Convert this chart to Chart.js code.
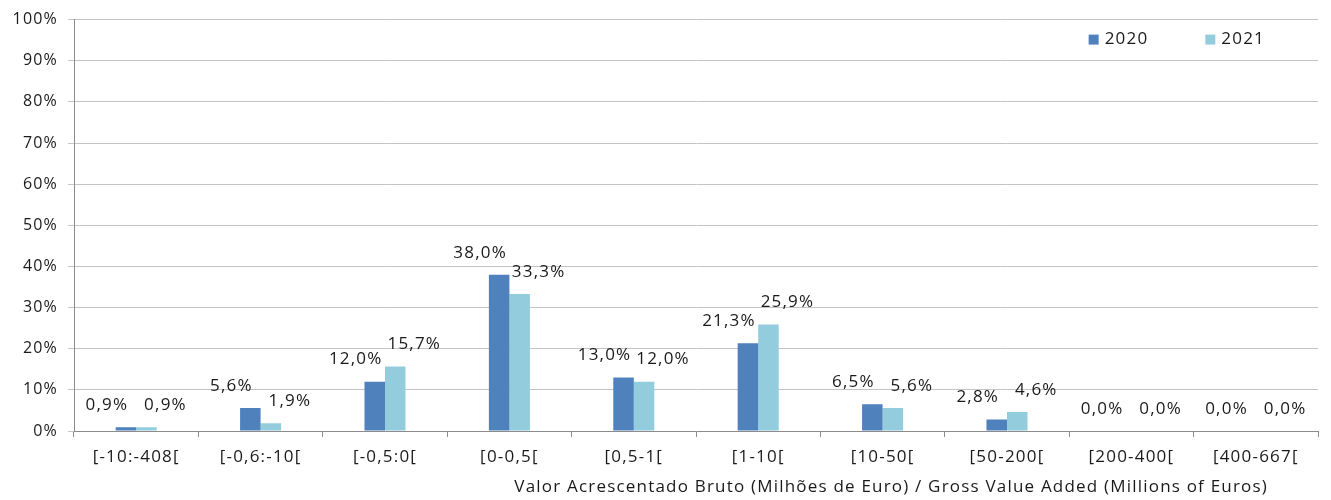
<!DOCTYPE html>
<html>
<head>
<meta charset="utf-8">
<script src="https://cdn.jsdelivr.net/npm/chart.js@4.4.1/dist/chart.umd.min.js"></script>
<style>
  html, body { margin: 0; padding: 0; background: #fff; }
  #wrap { width: 1331px; height: 500px; }
</style>
</head>
<body>
<div id="wrap"><canvas id="gva"></canvas></div>
<script>
// Dados do gráfico
const categories = ['[-10:-408[', '[-0,6:-10[', '[-0,5:0[', '[0-0,5[', '[0,5-1[', '[1-10[', '[10-50[', '[50-200[', '[200-400[', '[400-667['];
const values2020 = [0.9, 5.6, 12.0, 38.0, 13.0, 21.3, 6.5, 2.8, 0.0, 0.0];
const values2021 = [0.9, 1.9, 15.7, 33.3, 12.0, 25.9, 5.6, 4.6, 0.0, 0.0];
const seriesNames = ['2020', '2021'];
const yTicks = [0, 10, 20, 30, 40, 50, 60, 70, 80, 90, 100];
const xTitle = 'Valor Acrescentado Bruto (Milhões de Euro) / Gross Value Added (Millions of Euros)';

const FONT = '"Open Sans", "DejaVu Sans", sans-serif';
const SPACING = '1.2px';

// Formatar percentagem com vírgula
function formatPct(v) {
    return v.toFixed(1).replace('.', ',') + '%';
}

// Espaçamento entre letras (o canvas perde o estado ao redimensionar)
const letterSpacing = {
    id: 'letterSpacing',
    beforeLayout(chart) { chart.ctx.letterSpacing = SPACING; },
    beforeDraw(chart) { chart.ctx.letterSpacing = SPACING; }
};

// Rótulos de dados por cima das barras
const barLabels = {
    id: 'barLabels',
    afterDatasetsDraw(chart) {
        const ctx = chart.ctx;
        ctx.save();
        ctx.font = '17px ' + FONT;
        ctx.fillStyle = '#1a1a1a';
        ctx.textAlign = 'center';
        ctx.textBaseline = 'middle';
        chart.data.datasets.forEach((ds, di) => {
            const meta = chart.getDatasetMeta(di);
            const shift = di === 0 ? -19 : 19;
            meta.data.forEach((bar, i) => {
                ctx.fillText(formatPct(ds.data[i]), bar.x + shift, bar.y - 22);
            });
        });
        ctx.restore();
    }
};

// Legenda dentro da área do gráfico, canto superior direito
const insideLegend = {
    id: 'insideLegend',
    afterDraw(chart) {
        const ctx = chart.ctx;
        const area = chart.chartArea;
        ctx.save();
        ctx.font = '17px ' + FONT;
        ctx.textBaseline = 'middle';
        ctx.textAlign = 'left';
        const y = area.top + 20;
        let x = area.right - 53;
        const items = chart.data.datasets.slice().reverse();
        items.forEach(ds => {
            const w = ctx.measureText(ds.label).width;
            x -= w;
            ctx.fillStyle = '#1a1a1a';
            ctx.fillText(ds.label, x, y);
            x -= 6 + 10;
            ctx.fillStyle = ds.backgroundColor;
            ctx.fillRect(x, y - 5, 10, 10);
            x -= 57;
        });
        ctx.restore();
    }
};

// Título do eixo x alinhado à direita
const axisTitle = {
    id: 'axisTitle',
    afterDraw(chart) {
        const ctx = chart.ctx;
        ctx.save();
        ctx.font = '17px ' + FONT;
        ctx.fillStyle = '#1a1a1a';
        ctx.textAlign = 'right';
        ctx.textBaseline = 'middle';
        ctx.fillText(xTitle, chart.chartArea.right - 50, 487);
        ctx.restore();
    }
};

const ctx = document.getElementById('gva').getContext('2d');
new Chart(ctx, {
    type: 'bar',
    data: {
        labels: categories,
        datasets: [{
            label: seriesNames[0],
            data: values2020,
            backgroundColor: '#4f81bd',
            categoryPercentage: 0.33,
            barPercentage: 1.0
        }, {
            label: seriesNames[1],
            data: values2021,
            backgroundColor: '#93cddd',
            categoryPercentage: 0.33,
            barPercentage: 1.0
        }]
    },
    options: {
        responsive: true,
        maintainAspectRatio: false,
        animation: false,
        devicePixelRatio: 1,
        layout: {
            padding: { top: 12, right: 13, left: 0, bottom: 0 }
        },
        plugins: {
            legend: { display: false },
            tooltip: { enabled: false }
        },
        scales: {
            x: {
                grid: {
                    drawOnChartArea: false,
                    drawTicks: true,
                    tickLength: 6,
                    color: '#8c8c8c'
                },
                border: { color: '#8c8c8c' },
                ticks: {
                    color: '#1a1a1a',
                    padding: 10,
                    maxRotation: 0,
                    autoSkip: false,
                    font: { family: FONT, size: 17 }
                },
                afterFit(scale) { scale.height = 69; }
            },
            y: {
                min: 0,
                max: 100,
                afterBuildTicks(scale) {
                    scale.ticks = yTicks.map(v => ({ value: v }));
                },
                grid: {
                    color: '#c4c4c4',
                    tickLength: 6
                },
                border: { color: '#8c8c8c' },
                ticks: {
                    color: '#1a1a1a',
                    padding: 10,
                    font: { family: FONT, size: 16 },
                    callback: v => v + '%'
                },
                afterFit(scale) { scale.width = 74; }
            }
        }
    },
    plugins: [letterSpacing, barLabels, insideLegend, axisTitle]
});
</script>
</body>
</html>
